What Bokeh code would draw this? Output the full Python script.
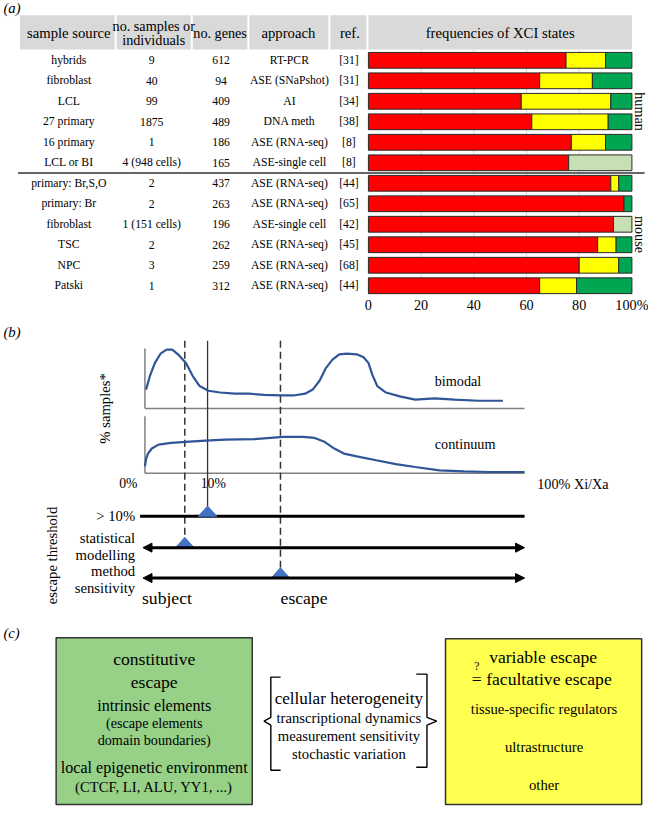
from bokeh.plotting import figure
from bokeh.models import Range1d, Arrow, NormalHead
from bokeh.core.properties import value
from bokeh.embed import file_html
from bokeh.resources import INLINE

# ---------------- data: panel (a) ----------------
sample_source = ["hybrids", "fibroblast", "LCL", "27 primary", "16 primary", "LCL or BI",
                 "primary: Br,S,O", "primary: Br", "fibroblast", "TSC", "NPC", "Patski"]
n_samples = ["9", "40", "99", "1875", "1", "4 (948 cells)",
             "2", "2", "1 (151 cells)", "2", "3", "1"]
n_genes = ["612", "94", "409", "489", "186", "165", "437", "263", "196", "262", "259", "312"]
approach = ["RT-PCR", "ASE (SNaPshot)", "AI", "DNA meth", "ASE (RNA-seq)", "ASE-single cell",
            "ASE (RNA-seq)", "ASE (RNA-seq)", "ASE-single cell", "ASE (RNA-seq)", "ASE (RNA-seq)",
            "ASE (RNA-seq)"]
refs = ["[31]", "[31]", "[34]", "[38]", "[8]", "[8]", "[44]", "[65]", "[42]", "[45]", "[68]", "[44]"]

subject_pct = [75, 65, 58, 62, 77, 76, 92, 97, 93, 87, 80, 65]
variable_pct = [15, 20, 34, 29, 13, 0, 3, 0, 0, 7, 15, 14]
escape_pct = [10, 15, 8, 9, 10, 0, 5, 3, 0, 6, 5, 21]
undetermined_pct = [0, 0, 0, 0, 0, 24, 0, 0, 7, 0, 0, 0]

pct_ticks = [0, 20, 40, 60, 80, 100]
pct_tick_labels = ["0", "20", "40", "60", "80", "100%"]

# ---------------- data: panel (b) ----------------
bimodal_xi = [0.3, 1.3, 2.6, 4.1, 5.7, 7.2, 8.7, 10.8, 12.6, 14.4, 16.7, 19.8, 23.7, 27.5,
              31.4, 35.7, 39.1, 42.2, 44.2, 46.0, 47.6, 49.4, 51.2, 53.2, 55.8, 57.6, 58.9,
              59.9, 61.2, 63.5, 67.4, 71.2, 76.4, 81.5, 87.9, 94.3]
bimodal_density = [0.32, 0.55, 0.77, 0.93, 1.0, 1.0, 0.92, 0.77, 0.55, 0.38, 0.30, 0.27, 0.25,
                   0.25, 0.23, 0.22, 0.22, 0.25, 0.32, 0.47, 0.68, 0.83, 0.92, 0.93, 0.92,
                   0.87, 0.77, 0.57, 0.38, 0.27, 0.20, 0.15, 0.17, 0.15, 0.13, 0.13]
continuum_xi = [0.0, 0.3, 0.8, 1.8, 3.6, 6.9, 10.8, 15.9, 21.1, 28.8, 36.5, 41.7, 44.7, 47.3,
                49.9, 52.4, 55.8, 60.9, 66.1, 71.2, 77.6, 84.1, 90.5, 100.0]
continuum_density = [0.12, 0.25, 0.35, 0.44, 0.51, 0.54, 0.56, 0.58, 0.60, 0.61, 0.65, 0.65,
                     0.63, 0.56, 0.44, 0.35, 0.30, 0.23, 0.16, 0.11, 0.05, 0.03, 0.02, 0.02]

threshold_xi = [16.5, 10.5, 35.7]          # >10%, statistical modelling, method sensitivity

# ---------------- canvas ----------------
W, H = 664, 823
FW, FH = 648, 807
S = 0.978
FONT = value("Liberation Serif")


def fs(px):
    return value(f"{px * S:.1f}px")


p = figure(width=FW, height=FH, x_range=Range1d(0, W), y_range=Range1d(H, 0),
           output_backend="svg", toolbar_location=None, min_border=0,
           x_axis_location=None, y_axis_location=None, outline_line_color=None)
p.xgrid.visible = False
p.ygrid.visible = False
p.background_fill_color = "white"
p.border_fill_color = "white"

# scale anchors (layout)
PCT0, PCT_PX = 377, 2.7
ROW0, ROW_PX = 61, 20.9
XI0, XI_PX = 148, 3.89
BIM0, BIM_PX = 416, 60
CON0, CON_PX = 482, 57
p.extra_x_ranges = {
    "pct": Range1d(-PCT0 / PCT_PX, (W - PCT0) / PCT_PX),
    "xi": Range1d(-XI0 / XI_PX, (W - XI0) / XI_PX),
}
p.extra_y_ranges = {
    "row": Range1d((H - ROW0) / ROW_PX, -ROW0 / ROW_PX),
    "bim": Range1d(-(H - BIM0) / BIM_PX, BIM0 / BIM_PX),
    "con": Range1d(-(H - CON0) / CON_PX, CON0 / CON_PX),
}


def txt(x, y, t, size, align="center", baseline="middle", style="normal", angle=0.0,
        xr="default", yr="default", color="black"):
    if not isinstance(x, list):
        x, y, t = [x], [y], [t]
    p.text(x=x, y=y, text=t, text_font=FONT, text_font_size=fs(size), text_align=align,
           text_baseline=baseline, text_font_style=style, angle=angle, text_color=color,
           x_range_name=xr, y_range_name=yr)


# ================= panel (a) =================
txt(3, 8, "(a)", 15, align="left", style="italic")

head_left = [20, 119, 197, 255, 338, 377]
head_right = [117, 195, 253, 336, 375, 647]
p.quad(left=head_left, right=head_right, top=15, bottom=50, fill_color="#D9D9D9", line_color=None)
txt(70, 33, "sample source", 15)
txt(157, 26, "no. samples or", 14.5)
txt(157, 40, "individuals", 14.5)
txt(225, 33, "no. genes", 14.5)
txt(295, 33, "approach", 15)
txt(358, 33, "ref.", 15)
txt(512, 33, "frequencies of XCI states", 15)

rows = list(range(len(sample_source)))
for cx, col in [(70, sample_source), (155, n_samples), (226, n_genes), (296, approach), (357, refs)]:
    txt([cx] * len(rows), rows, col, 12, yr="row")

# grid lines behind bars
p.segment(x0=[20, 40, 60, 80], y0=-0.53, x1=[20, 40, 60, 80], y1=11.4, line_color="#DADADA",
          line_width=1, x_range_name="pct", y_range_name="row")

ys, lefts, rights, colors = [], [], [], []
series = [(subject_pct, "#FF0000"), (variable_pct, "#FFFF00"), (escape_pct, "#00A651"),
          (undetermined_pct, "#C6E0B4")]
for i in rows:
    left = 0
    for vals, c in series:
        v = vals[i]
        if v > 0:
            ys.append(i)
            lefts.append(left)
            rights.append(left + v)
            colors.append(c)
            left += v
p.hbar(y=ys, left=lefts, right=rights, height=0.77, fill_color=colors, line_color="#2a2a2a",
       line_width=1, x_range_name="pct", y_range_name="row")

txt(pct_ticks, [11.93] * len(pct_ticks), pct_tick_labels, 14.5, xr="pct", yr="row")

# species separator and labels
p.segment(x0=18, y0=5.5, x1=660, y1=5.5, line_color="#333333", line_width=1.4, y_range_name="row")
txt(655, 2.5, "human", 14.5, angle=-1.5708, yr="row")
txt(655, 8.5, "mouse", 14.5, angle=-1.5708, yr="row")

# ================= panel (b) =================
txt(3, 338, "(b)", 15, align="left", style="italic")

# small axes
p.segment(x0=[0, 0, 0, 0], y0=[355, 416, 424, 482], x1=[0, 100, 0, 100], y1=[416, 416, 482, 482],
          line_color="#808080", line_width=1.5, x_range_name="xi")

# threshold verticals
p.segment(x0=threshold_xi[0], y0=347, x1=threshold_xi[0], y1=516, line_color="#333333",
          line_width=1.3, x_range_name="xi")
p.segment(x0=threshold_xi[1:], y0=[347, 347], x1=threshold_xi[1:], y1=[548, 580],
          line_color="#333333", line_width=1.5, line_dash="7 4", x_range_name="xi")

# curves
p.line(bimodal_xi, bimodal_density, line_color="#2F5597", line_width=2.2,
       x_range_name="xi", y_range_name="bim")
p.line(continuum_xi, continuum_density, line_color="#2F5597", line_width=2.2,
       x_range_name="xi", y_range_name="con")

txt(445, 388, "bimodal", 14.5, align="left")
txt(445, 452, "continuum", 14.5, align="left")
txt(107, 416, "% samples*", 15, angle=1.5708)
txt(131, 493, "0%", 14)
txt(218, 493, "10%", 14)
txt(550, 493, "100% Xi/Xa", 14.5, align="left")

# threshold lines
p.segment(x0=143, y0=526, x1=537, y1=526, line_color="black", line_width=3)
for yy in (558, 589):
    p.add_layout(Arrow(start=NormalHead(size=9, fill_color="black", line_color="black", line_width=1),
                       end=NormalHead(size=9, fill_color="black", line_color="black", line_width=1),
                       x_start=146, y_start=yy, x_end=537, y_end=yy, line_width=3,
                       line_color="black"))

tri_y = [526, 558, 589]
hw = 9.5 / XI_PX
p.patches(xs=[[t - hw, t + hw, t] for t in threshold_xi],
          ys=[[b, b, b - 10.5] for b in tri_y],
          fill_color="#4472C4", line_color="#4472C4", line_width=1, x_range_name="xi")

txt(138, 526, "> 10%", 15, align="right")
txt(138, 548, "statistical", 15, align="right")
txt(138, 566, "modelling", 15, align="right")
txt(138, 582, "method", 15, align="right")
txt(138, 599, "sensitivity", 15, align="right")
txt(53, 566, "escape threshold", 15, angle=1.5708)
txt(145, 609, "subject", 18, align="left")
txt(287, 609, "escape", 18, align="left")

# ================= panel (c) =================
txt(3, 645, "(c)", 15, align="left", style="italic")

p.quad(left=[57], right=[258], top=[650], bottom=[820], fill_color="#97D087",
       line_color="#333333", line_width=1.5)
p.quad(left=[456], right=[657], top=[651], bottom=[820], fill_color="#FFFF4F",
       line_color="#333333", line_width=1.5)

gx = 157.5
txt(gx, 672, "constitutive", 18)
txt(gx, 695, "escape", 18)
txt(gx, 719, "intrinsic elements", 16.5)
txt(gx, 737, "(escape elements", 14.5)
txt(gx, 754, "domain boundaries)", 14.5)
txt(gx, 782, "local epigenetic environment", 16.5)
txt(gx, 802, "(CTCF, LI, ALU, YY1, ...)", 15)

# braces
p.multi_line(xs=[[287, 277, 277, 270, 277, 277, 287], [426, 437, 437, 447, 437, 437, 426]],
             ys=[[690, 690, 731, 735, 739, 785, 785], [687, 687, 731, 735, 739, 782, 782]],
             line_color="black", line_width=1.4)

cx = 357
txt(cx, 712, "cellular heterogeneity", 17.5)
txt(cx, 732, "transcriptional dynamics", 15)
txt(cx, 750, "measurement sensitivity", 15)
txt(cx, 768, "stochastic variation", 15)

txt(556, 670, "variable escape", 18)
txt(488, 679, "?", 12)
txt(488, 692, "=", 18)
txt(562, 692, "facultative escape", 18)
txt(557, 723, "tissue-specific regulators", 15)
txt(557, 761, "ultrastructure", 15)
txt(557, 800, "other", 15)

open("out.html", "w").write(file_html(p, INLINE))
